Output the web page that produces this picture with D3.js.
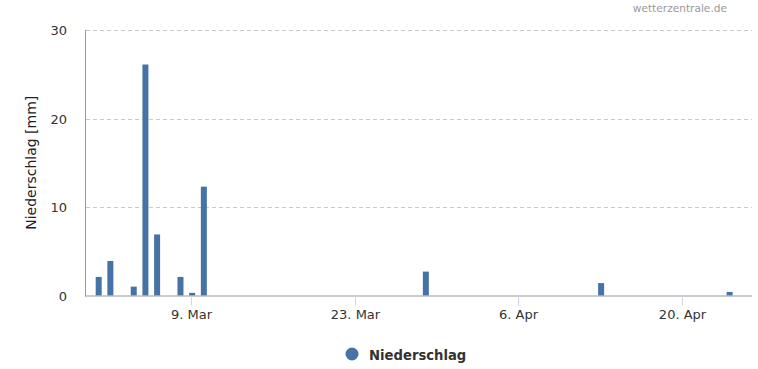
<!DOCTYPE html>
<html>
<head>
<meta charset="utf-8">
<script src="https://cdn.jsdelivr.net/npm/d3@7"></script>
<style>
  body { margin: 0; background: #fff; }
  #chart { width: 758px; height: 369px; }
  text { font-family: "DejaVu Sans", Verdana, sans-serif; }
</style>
</head>
<body>
<div id="chart"></div>
<script>
// daily precipitation, only days with rain
const days = ["2023-03-01", "2023-03-02", "2023-03-04", "2023-03-05", "2023-03-06",
  "2023-03-08", "2023-03-09", "2023-03-10", "2023-03-29", "2023-04-13", "2023-04-24"];
const precip = [2.1, 3.9, 1.0, 26.1, 6.9, 2.1, 0.3, 12.3, 2.7, 1.4, 0.4];
const xTicks = ["2023-03-09", "2023-03-23", "2023-04-06", "2023-04-20"];
const yTicks = [0, 10, 20, 30];
const seriesName = "Niederschlag";
const yTitle = "Niederschlag [mm]";

const parse = d3.utcParse("%Y-%m-%d");
const width = 758, height = 369;
const pLeft = 86, pRight = 752, pTop = 30, pBottom = 295.5;

const svg = d3.select("#chart").append("svg")
  .attr("width", width)
  .attr("height", height);

const x = d3.scaleUtc()
  .domain([parse("2023-02-28"), parse("2023-04-26")])
  .range([pLeft, pRight]);
const y = d3.scaleLinear().domain([0, 30]).range([pBottom, pTop]);

// grid lines
svg.append("g").selectAll("line")
  .data(yTicks.filter(t => t > 0))
  .enter().append("line")
  .attr("x1", pLeft).attr("x2", pRight)
  .attr("y1", d => Math.round(y(d)) + 0.5).attr("y2", d => Math.round(y(d)) + 0.5)
  .attr("stroke", "#c8c8c8")
  .attr("stroke-dasharray", "4,3");

// y tick labels
svg.append("g").selectAll("text")
  .data(yTicks)
  .enter().append("text")
  .attr("x", 67)
  .attr("y", d => y(d) + 5)
  .attr("text-anchor", "end")
  .attr("fill", "#333")
  .style("font-size", "13px")
  .text(d => d);

// y title
svg.append("text")
  .attr("transform", `translate(36,${(pTop + pBottom) / 2}) rotate(-90)`)
  .attr("text-anchor", "middle")
  .attr("fill", "#222")
  .style("font-size", "14px")
  .text(yTitle);

// bars
const barW = 6;
svg.append("g").selectAll("rect")
  .data(days.map((d, i) => ({ date: parse(d), v: precip[i] })))
  .enter().append("rect")
  .attr("x", d => x(d.date) - barW / 2 + 1)
  .attr("y", d => y(d.v))
  .attr("width", barW)
  .attr("height", d => pBottom - y(d.v))
  .attr("fill", "#4572a7");

// axes lines
svg.append("line")
  .attr("x1", pLeft - 0.5).attr("x2", pLeft - 0.5)
  .attr("y1", pTop).attr("y2", pBottom + 1)
  .attr("stroke", "#999");
svg.append("line")
  .attr("x1", pLeft - 1).attr("x2", pRight)
  .attr("y1", pBottom + 0.5).attr("y2", pBottom + 0.5)
  .attr("stroke", "#999");

// x ticks
const xt = svg.append("g").selectAll("g")
  .data(xTicks.map(parse))
  .enter().append("g")
  .attr("transform", d => `translate(${Math.round(x(d)) + 0.5},0)`);
xt.append("line")
  .attr("y1", pBottom + 1).attr("y2", pBottom + 10)
  .attr("stroke", "#ccd6eb");
xt.append("text")
  .attr("y", 319)
  .attr("text-anchor", "middle")
  .attr("fill", "#333")
  .style("font-size", "13px")
  .text(d => `${d.getUTCDate()}. ${d3.utcFormat("%b")(d)}`);

// legend
const lg = svg.append("g").attr("transform", "translate(352,354)");
lg.append("circle").attr("r", 6.5).attr("fill", "#4572a7");
lg.append("text")
  .attr("x", 17).attr("y", 5.5)
  .attr("fill", "#333")
  .style("font-size", "13.2px")
  .style("font-weight", "bold")
  .text(seriesName);

// credits
svg.append("text")
  .attr("x", 727).attr("y", 12)
  .attr("text-anchor", "end")
  .attr("fill", "#999")
  .style("font-size", "10.6px")
  .text("wetterzentrale.de");
</script>
</body>
</html>
